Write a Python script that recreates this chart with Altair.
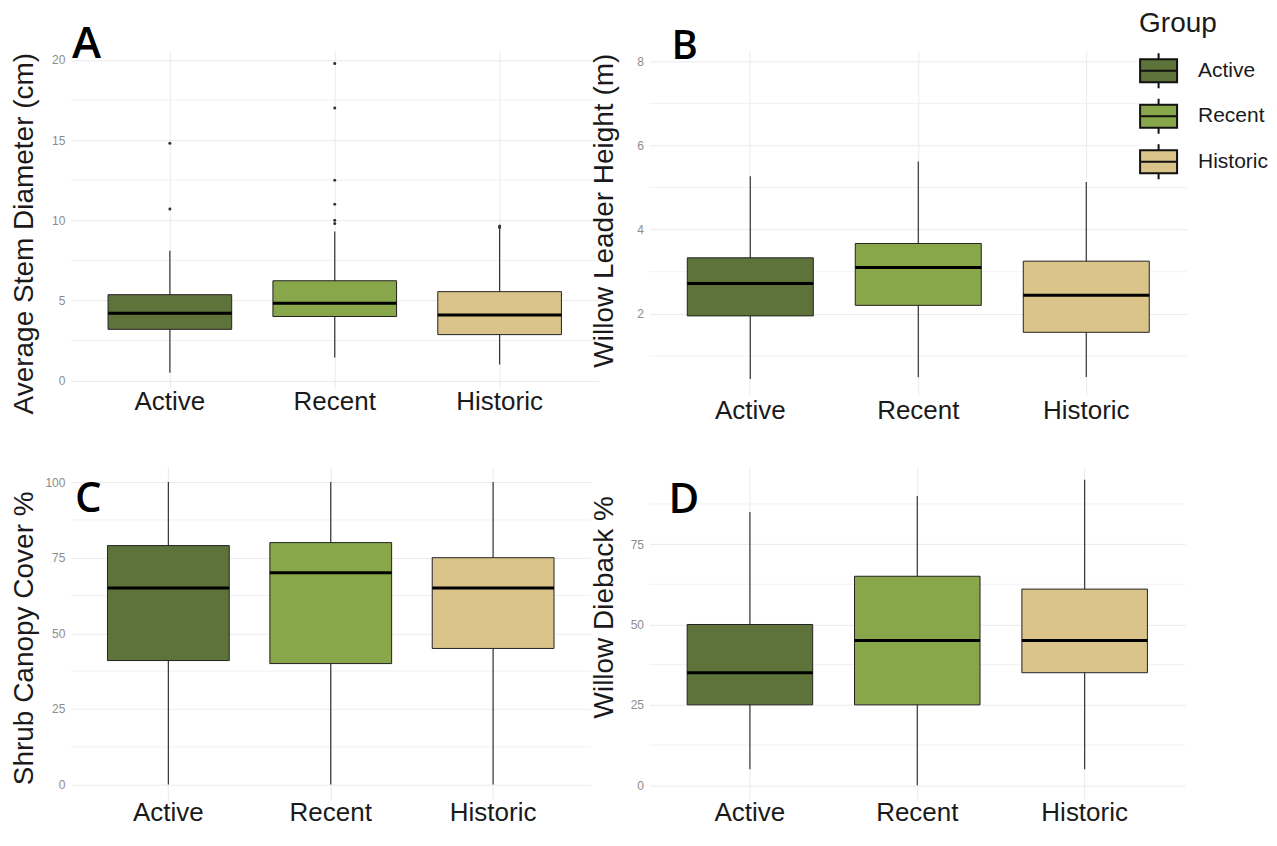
import altair as alt
import pandas as pd

groups = ["Active", "Recent", "Historic"]
colors = ["#5e7339", "#88a64a", "#dac48a"]

# Panel A: Average Stem Diameter (cm)
a_low = [0.5, 1.45, 1.0]
a_q1 = [3.2, 4.0, 2.87]
a_med = [4.2, 4.82, 4.1]
a_q3 = [5.36, 6.23, 5.55]
a_high = [8.1, 9.3, 9.45]
a_out_group = ["Active", "Active", "Recent", "Recent", "Recent", "Recent", "Recent", "Recent", "Historic", "Historic"]
a_out_value = [10.7, 14.8, 9.8, 10.0, 11.0, 12.5, 17.0, 19.77, 9.55, 9.65]
a_major = [0, 5, 10, 15, 20]
a_minor = [2.5, 7.5, 12.5, 17.5]

# Panel B: Willow Leader Height (m)
b_low = [0.45, 0.49, 0.5]
b_q1 = [1.95, 2.2, 1.56]
b_med = [2.72, 3.1, 2.44]
b_q3 = [3.33, 3.67, 3.25]
b_high = [5.27, 5.62, 5.13]
b_out_group = []
b_out_value = []
b_major = [2, 4, 6, 8]
b_minor = [1, 3, 5, 7]

# Panel C: Shrub Canopy Cover %
c_low = [0, 0, 0]
c_q1 = [41, 40, 45]
c_med = [65, 70, 65]
c_q3 = [79, 80, 75]
c_high = [100, 100, 100]
c_out_group = []
c_out_value = []
c_major = [0, 25, 50, 75, 100]
c_minor = [12.5, 37.5, 62.5, 87.5]

# Panel D: Willow Dieback %
d_low = [5, 0, 5]
d_q1 = [25, 25, 35]
d_med = [35, 45, 45]
d_q3 = [50, 65, 61]
d_high = [85, 90, 95]
d_out_group = []
d_out_value = []
d_major = [0, 25, 50, 75]
d_minor = [12.5, 37.5, 62.5, 87.5]

FONT = "Liberation Sans"
BOX_PATH = "M-1,-0.62H1V0.62H-1Z M-1,0H1 M0,-0.62V-0.95 M0,0.62V0.95"

legend = alt.Legend(
    title="Group", orient="none", legendX=1069, legendY=-40,
    titleFontSize=28, titleFont=FONT, titleFontWeight="normal", titleColor="#1a1a1a",
    titlePadding=13, labelFontSize=21, labelFont=FONT, labelColor="#1a1a1a",
    labelOffset=20, symbolType=BOX_PATH, symbolSize=1369,
    symbolStrokeColor="#111111", symbolStrokeWidth=2, rowPadding=0.5,
    fillColor="white", padding=0,
)


def panel(letter, ytitle, low, q1, med, q3, high, out_g, out_v, major, minor,
          domain, width, height, lx, ly, lsize, lpad, tx, ty):
    summ = pd.DataFrame({"group": groups, "low": low, "q1": q1, "med": med,
                         "q3": q3, "high": high})
    outs = pd.DataFrame({"group": out_g, "v": out_v})
    minor_df = pd.DataFrame({"v": minor})
    lab_df = pd.DataFrame({"t": [letter]})
    bandw = 0.75 * width / 3.2

    xscale = alt.Scale(domain=groups, paddingInner=0.25, paddingOuter=0.225)
    xaxis = alt.Axis(title=None, labelFontSize=26, labelFont=FONT, labelColor="#1a1a1a",
                     labelAngle=0, domain=False, ticks=False, grid=True,
                     gridColor="#ebebeb", gridWidth=1, labelPadding=lpad,
                     bandPosition=0.5)
    yscale = alt.Scale(domain=domain, nice=False, zero=False)
    yaxis = alt.Axis(title=ytitle, values=major, titleFontSize=28, titleFont=FONT,
                     titleFontWeight="normal", titleColor="#1a1a1a",
                     titleX=tx, titleY=ty, titleAngle=270, titleAlign="center",
                     titleBaseline="bottom",
                     labelFontSize=12, labelFont=FONT, labelColor="#8c8c8c",
                     labelPadding=6, domain=False, ticks=False, grid=True,
                     gridColor="#ebebeb", gridWidth=1)
    x = alt.X("group:N", scale=xscale, axis=xaxis)

    grid = alt.Chart(minor_df).mark_rule(color="#f1f1f1", strokeWidth=1).encode(
        y=alt.Y("v:Q", scale=yscale, axis=yaxis))
    whisk = alt.Chart(summ).mark_rule(color="#333333", strokeWidth=1.2).encode(
        x=x, y=alt.Y("low:Q", scale=yscale, axis=yaxis), y2="high:Q")
    box = alt.Chart(summ).mark_bar(stroke="#222222", strokeWidth=1).encode(
        x=x, y=alt.Y("q1:Q", scale=yscale, axis=yaxis), y2="q3:Q",
        fill=alt.Fill("group:N", scale=alt.Scale(domain=groups, range=colors),
                      legend=legend))
    medl = alt.Chart(summ).mark_tick(color="#000000", thickness=3, size=bandw,
                                      opacity=1).encode(
        x=x, y=alt.Y("med:Q", scale=yscale, axis=yaxis))
    layers = [grid, whisk, box, medl]
    if len(out_v):
        pts = alt.Chart(outs).mark_circle(size=9, color="#333333", opacity=1).encode(
            x=x, y=alt.Y("v:Q", scale=yscale, axis=yaxis))
        layers.append(pts)
    lab = alt.Chart(lab_df).mark_text(align="left", baseline="alphabetic", fontSize=lsize,
                                      font="Open Sans", fontWeight=600,
                                      color="#000000").encode(
        x=alt.value(lx), y=alt.value(ly), text="t:N")
    layers.append(lab)
    return alt.layer(*layers).properties(width=width, height=height)


pa = panel("A", "Average Stem Diameter (cm)", a_low, a_q1, a_med, a_q3, a_high,
           a_out_group, a_out_value, a_major, a_minor, [-0.46, 20.6], 528, 338,
           1, 8, 44, 0, -32, 183)
pb = panel("B", "Willow Leader Height (m)", b_low, b_q1, b_med, b_q3, b_high,
           b_out_group, b_out_value, b_major, b_minor, [0.07, 8.26], 538, 345,
           22, 9, 40, 3, -31, 160)
pc = panel("C", "Shrub Canopy Cover %", c_low, c_q1, c_med, c_q3, c_high,
           c_out_group, c_out_value, c_major, c_minor, [-5, 105], 520, 333,
           4, 45, 42, 0, -32, 171)
pd_ = panel("D", "Willow Dieback %", d_low, d_q1, d_med, d_q3, d_high,
            d_out_group, d_out_value, d_major, d_minor, [-4.5, 99], 536, 333,
            19, 46, 42, 0, -31, 140)

chart = alt.concat(pa, pb, pc, pd_, columns=2, spacing={"row": 43, "column": -10},
                   align="each").properties(
    padding={"left": 2, "top": 2, "right": 0, "bottom": 0},
    background="white",
).configure_view(stroke=None)

chart.save("out.html", embed_options={"renderer": "svg", "actions": False})
